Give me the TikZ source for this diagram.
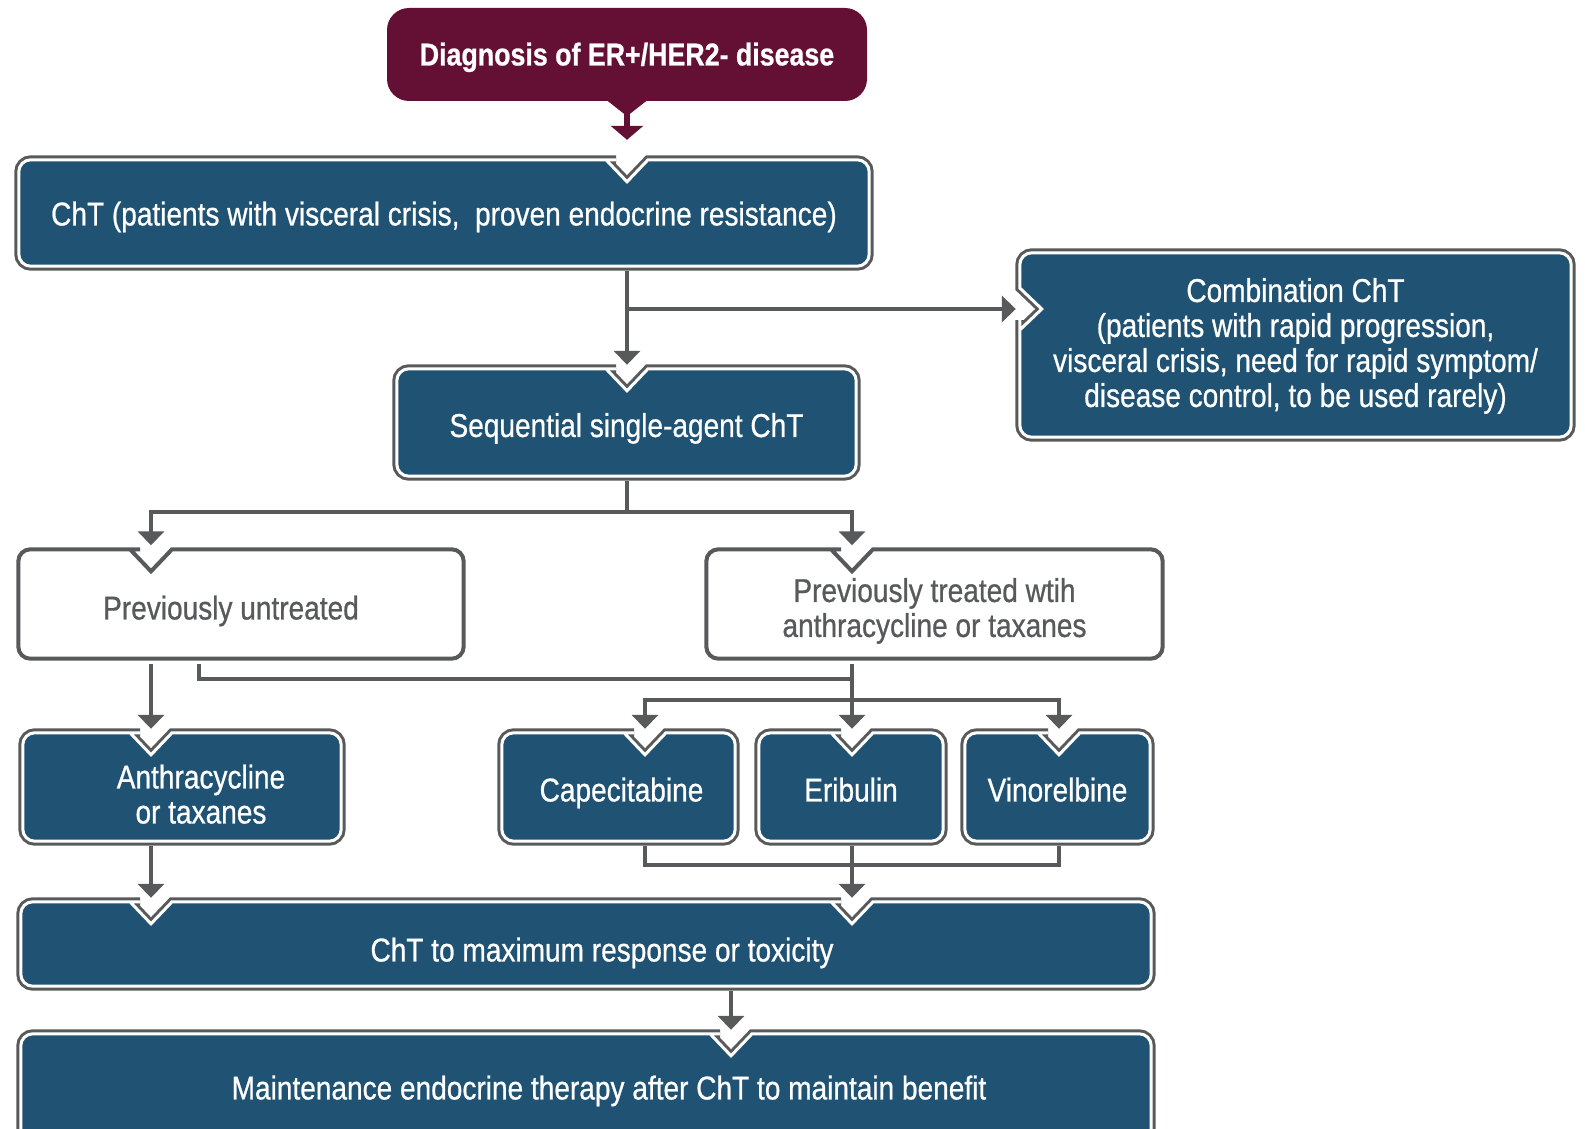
\documentclass[tikz,border=0pt]{standalone}
\usepackage{fontspec}
\setmainfont{Liberation Sans}[FakeStretch=0.85, FakeBold=0.7]
\usetikzlibrary{arrows.meta,backgrounds}

\definecolor{boxblue}{HTML}{1F5273}
\definecolor{diagred}{HTML}{641035}
\definecolor{linegray}{HTML}{58595B}

% notch half width and depth
\newcommand{\nw}{21}
\newcommand{\nd}{22}

% frame with one notch in the top edge at x=#3
\newcommand{\notchtop}[3]{%
  \path[#1] (#2.west) [rounded corners=12pt] -- (#2.north west)
    -- (#3-\nw-2,0 |- #2.north) [sharp corners] -- ++(2,0) -- ++(\nw,\nd) -- ++(\nw,-\nd) -- ++(2,0)
    [rounded corners=12pt] -- (#2.north east) -- (#2.south east) -- (#2.south west) -- cycle;}

% frame with two notches in the top edge
\newcommand{\notchtwo}[4]{%
  \path[#1] (#2.west) [rounded corners=12pt] -- (#2.north west)
    -- (#3-\nw-2,0 |- #2.north) [sharp corners] -- ++(2,0) -- ++(\nw,\nd) -- ++(\nw,-\nd) -- ++(2,0)
    [rounded corners=12pt] -- (#4-\nw-2,0 |- #2.north) [sharp corners] -- ++(2,0) -- ++(\nw,\nd) -- ++(\nw,-\nd) -- ++(2,0)
    [rounded corners=12pt] -- (#2.north east) -- (#2.south east) -- (#2.south west) -- cycle;}

% frame with the notch in the left edge at y=#3
\newcommand{\notchleft}[3]{%
  \path[#1] (#2.north) [rounded corners=12pt] -- (#2.north east) -- (#2.south east) -- (#2.south west)
    -- (#2.west |- 0,#3+\nw+2) [sharp corners] -- ++(0,-2) -- ++(\nd,-\nw) -- ++(-\nd,-\nw) -- ++(0,-2)
    [rounded corners=12pt] -- (#2.north west) -- cycle;}

\begin{document}
\begin{tikzpicture}[x=1pt, y=-1pt,
    boxtext/.style={inner sep=0pt, align=center, text=white, text depth=7pt, font=\fontsize{33}{35}\selectfont},
    graytext/.style={boxtext, text=linegray},
    bluebox/.style={preaction={draw=linegray, line width=9pt}, fill=boxblue, draw=white, line width=3pt},
    whitebox/.style={draw=linegray, line width=4pt, fill=white},
    line/.style={draw=linegray, line width=4pt},
    arr/.style={line, -{Triangle[width=26pt,length=14pt]}, shorten >=4pt},
    leave/.style={shorten <=5pt}]

\useasboundingbox (0,0) rectangle (1585,1129);

% Boxes
\node[fill=diagred, rounded corners=22pt, minimum width=480pt, minimum height=93pt, inner sep=0pt,
      label={[boxtext, font=\bfseries\fontsize{31.5}{35}\selectfont, yshift=-3pt]center:Diagnosis of ER+/HER2- disease}] (diag) at (627,54.5) {};
\node[minimum width=850pt, minimum height=106pt,
      label={[boxtext, yshift=-4pt]center:ChT (patients with visceral crisis,\ \ proven endocrine resistance)}] (cht) at (444,213) {};
\node[minimum width=551pt, minimum height=184pt,
      label={[boxtext, yshift=-1pt]center:Combination ChT\\(patients with rapid progression,\\visceral crisis, need for rapid symptom/\\disease control, to be used rarely)}] (comb) at (1295.5,345) {};
\node[minimum width=459pt, minimum height=107pt,
      label={[boxtext, yshift=-6pt]center:Sequential single-agent ChT}] (seq) at (626.5,422.5) {};
\node[minimum width=445pt, minimum height=109pt,
      label={[graytext, xshift=-10pt, yshift=-7pt]center:Previously untreated}] (untr) at (241,604) {};
\node[minimum width=456pt, minimum height=109pt,
      label={[graytext, yshift=-7pt]center:Previously treated wtih\\anthracycline or taxanes}] (trt) at (934.5,604) {};
\node[minimum width=318pt, minimum height=108pt,
      label={[boxtext, xshift=19pt, yshift=-10.5pt]center:Anthracycline\\or taxanes}] (anth) at (182,787) {};
\node[minimum width=233pt, minimum height=108pt,
      label={[boxtext, xshift=3pt, yshift=-6pt]center:Capecitabine}] (cape) at (618.5,787) {};
\node[minimum width=184pt, minimum height=108pt,
      label={[boxtext, yshift=-6pt]center:Eribulin}] (erib) at (851,787) {};
\node[minimum width=185pt, minimum height=108pt,
      label={[boxtext, yshift=-6pt]center:Vinorelbine}] (vino) at (1057.5,787) {};
\node[minimum width=1130pt, minimum height=84pt,
      label={[boxtext, xshift=16pt, yshift=-9pt]center:ChT to maximum response or toxicity}] (max) at (586,944) {};
\node[minimum width=1130pt, minimum height=118pt,
      label={[boxtext, xshift=23pt, yshift=2pt]center:Maintenance endocrine therapy after ChT to maintain benefit}] (maint) at (586,1093) {};

% Frames
\begin{scope}[on background layer]
\notchtop{bluebox}{cht}{627}
\notchleft{bluebox}{comb}{309}
\notchtop{bluebox}{seq}{627}
\notchtop{whitebox}{untr}{151}
\notchtop{whitebox}{trt}{852}
\notchtop{bluebox}{anth}{151}
\notchtop{bluebox}{cape}{645}
\notchtop{bluebox}{erib}{852}
\notchtop{bluebox}{vino}{1059}
\notchtwo{bluebox}{max}{151}{852}
\notchtop{bluebox}{maint}{731}
\end{scope}

% Junctions
\coordinate (j1) at (627,309);
\coordinate (j2) at (627,512);
\coordinate (j3) at (852,679);
\coordinate (j4) at (852,700);
\coordinate (j5) at (852,865);

% Connectors
\fill[diagred] ([xshift=-19pt]diag.south) -- ([xshift=19pt]diag.south) -- ([yshift=-15pt]diag.south) -- cycle;
\draw[diagred, line width=6pt, -{Triangle[width=32pt,length=14pt]}, shorten >=20pt] (diag.south) -- (diag.south |- cht.north);
\draw[arr, leave] (627,0 |- cht.south) -- (627,0 |- seq.north);
\draw[arr] (j1) -- (j1 -| comb.west);
\draw[arr, leave] (627,0 |- seq.south) -- (j2) -| (151,0 |- untr.north);
\draw[arr] (j2) -| (852,0 |- trt.north);
\draw[arr, leave] (151,0 |- untr.south) -- (151,0 |- anth.north);
\draw[line, leave] (199,0 |- untr.south) |- (j3);
\draw[arr, leave] (852,0 |- trt.south) -- (852,0 |- erib.north);
\draw[arr] (j4) -| (645,0 |- cape.north);
\draw[arr] (j4) -| (1059,0 |- vino.north);
\draw[line, leave] (645,0 |- cape.south) |- (j5);
\draw[line, leave] (1059,0 |- vino.south) |- (j5);
\draw[arr, leave] (852,0 |- erib.south) -- (852,0 |- max.north);
\draw[arr, leave] (151,0 |- anth.south) -- (151,0 |- max.north);
\draw[arr, leave] (731,0 |- max.south) -- (731,0 |- maint.north);

\end{tikzpicture}
\end{document}
